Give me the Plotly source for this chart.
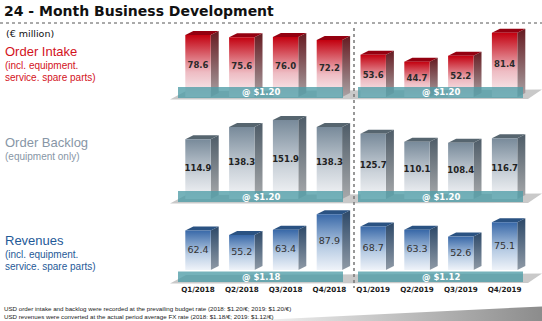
import plotly.graph_objects as go

# ---------------- data ----------------
quarters = ["Q1/2018", "Q2/2018", "Q3/2018", "Q4/2018",
            "Q1/2019", "Q2/2019", "Q3/2019", "Q4/2019"]
order_intake = [78.6, 75.6, 76.0, 72.2, 53.6, 44.7, 52.2, 81.4]
order_backlog = [114.9, 138.3, 151.9, 138.3, 125.7, 110.1, 108.4, 116.7]
revenues = [62.4, 55.2, 63.4, 87.9, 68.7, 63.3, 52.6, 75.1]
fx_intake = ["@ $1.20", "@ $1.20"]
fx_backlog = ["@ $1.20", "@ $1.20"]
fx_revenues = ["@ $1.18", "@ $1.12"]

title = "24 - Month Business Development"
unit_label = "(€ million)"
footnotes = [
    "USD order intake and backlog were recorded at the prevailing budget rate (2018: $1.20/€; 2019: $1.20/€)",
    "USD revenues were converted at the actual period average FX rate (2018: $1.18/€; 2019: $1.12/€)",
]

# ---------------- layout constants ----------------
W, H = 542, 321
X0_PX, STEP = 198.0, 43.8
HALF = 0.29            # half width of the front face (category units)
DX = 8.0 / STEP        # depth offset in x
DEPTH_PX = 4.0


def px_x(px):
    return (px - X0_PX) / STEP


rows = [
    dict(name="intake", values=order_intake, fx=fx_intake, axis="y", base=97.0, scale=0.79,
         band=(87.0, 98.0),
         front=[[0, "#f9f3f5"], [0.4, "#eebcc3"], [1, "#c3000f"]],
         side=[[0, "#a9a3a5"], [1, "#661a20"]], top="#940010",
         label="Order Intake", sub=["(incl. equipment.", "service. spare parts)"],
         color="#d3121c", ly=(51, 65, 77), vfont=dict(family="DejaVu Sans", size=8.5, color="#2a2a2a"),
         vbold=True),
    dict(name="backlog", values=order_backlog, fx=fx_backlog, axis="y2", base=199.0, scale=0.52,
         band=(191.0, 202.0),
         front=[[0, "#f5f6f8"], [0.4, "#ccd3da"], [1, "#788a9a"]],
         side=[[0, "#a7a9ab"], [1, "#4e5c68"]], top="#56656f",
         label="Order Backlog", sub=["(equipment only)"],
         color="#8796a6", ly=(143, 157), vfont=dict(family="DejaVu Sans", size=8.5, color="#222222"),
         vbold=True),
    dict(name="revenues", values=revenues, fx=fx_revenues, axis="y3", base=270.0, scale=0.635,
         band=(271.5, 282.0),
         front=[[0, "#eff3f9"], [0.4, "#b9cde4"], [1, "#3868a8"]],
         side=[[0, "#8f9aa6"], [1, "#2c4868"]], top="#2a5282",
         label="Revenues", sub=["(incl. equipment.", "service. spare parts)"],
         color="#1f5a98", ly=(240, 254, 266), vfont=dict(family="DejaVu Sans", size=9.5, color="#333333"),
         vbold=False),
]

fig = go.Figure()

for r in rows:
    s = r["scale"]
    dy = DEPTH_PX / s
    ax = r["axis"]
    for i, v in enumerate(r["values"]):
        xl, xr = i - HALF, i + HALF
        # side face
        fig.add_trace(go.Scatter(
            x=[xr, xr + DX, xr + DX, xr, xr], y=[0, dy, v + dy, v, 0],
            mode="lines", line=dict(width=0), fill="toself",
            fillgradient=dict(type="vertical", colorscale=r["side"]),
            yaxis=ax, hoverinfo="skip", showlegend=False))
        # top face
        fig.add_trace(go.Scatter(
            x=[xl, xr, xr + DX, xl + DX, xl], y=[v, v, v + dy, v + dy, v],
            mode="lines", line=dict(width=0), fill="toself", fillcolor=r["top"],
            yaxis=ax, hoverinfo="skip", showlegend=False))
        # front face
        fig.add_trace(go.Scatter(
            x=[xl, xr, xr, xl, xl], y=[0, 0, v, v, 0],
            mode="lines", line=dict(width=0), fill="toself",
            fillgradient=dict(type="vertical", colorscale=r["front"]),
            yaxis=ax, hoverinfo="skip", showlegend=False))
    # value labels
    txt = [f"<b>{v:.1f}</b>" if r["vbold"] else f"{v:.1f}" for v in r["values"]]
    fig.add_trace(go.Scatter(
        x=list(range(len(r["values"]))), y=[v / 2 for v in r["values"]],
        mode="text", text=txt, textfont=r["vfont"], textposition="middle center",
        yaxis=ax, hoverinfo="skip", showlegend=False))

# category labels (below the revenue row)
rev = rows[2]
fig.add_trace(go.Scatter(
    x=list(range(len(quarters))), y=[(rev["base"] - 290.0) / rev["scale"]] * len(quarters),
    mode="text", text=[f"<b>{q}</b>" for q in quarters],
    textfont=dict(family="DejaVu Sans", size=7.2, color="#1a1a1a"),
    yaxis="y3", hoverinfo="skip", showlegend=False))

# bottom swoosh
fig.add_trace(go.Scatter(
    x=[px_x(225), px_x(542), px_x(542), px_x(225)],
    y=[(rev["base"] - p) / rev["scale"] for p in (321.5, 306.5, 321.5, 321.5)],
    mode="lines", line=dict(width=0), fill="toself",
    fillgradient=dict(type="horizontal", colorscale=[[0, "#ffffff"], [1, "#8c8c8c"]]),
    yaxis="y3", hoverinfo="skip", showlegend=False))

shapes = []
annotations = []


def pp(px, py):
    return f"{px / W:.5f},{1 - py / H:.5f}"


for r in rows:
    bt, bb = r["band"]
    # floor
    shapes.append(dict(
        type="path", xref="paper", yref="paper", layer="below",
        path=f"M{pp(170, bb + 1.5)} L{pp(186, bb - 7)} L{pp(542, bb - 8.5)} L{pp(528, bb + 1)} Z",
        fillcolor="#c9c9c9", line=dict(width=0)))
    for (x1, x2), lab in zip([(178, 343), (358, 523)], r["fx"]):
        shapes.append(dict(type="rect", xref="paper", yref="paper", layer="above",
                           x0=x1 / W, x1=x2 / W, y0=1 - bb / H, y1=1 - bt / H,
                           fillcolor="rgba(78,156,166,0.78)", line=dict(width=0)))
        annotations.append(dict(xref="paper", yref="paper", x=(x1 + x2) / 2 / W,
                                y=1 - (bt + bb) / 2 / H, text=f"<b>{lab}</b>", showarrow=False,
                                font=dict(family="DejaVu Sans", size=8.5, color="white"),
                                xanchor="center", yanchor="middle"))
    # left labels
    annotations.append(dict(xref="paper", yref="paper", x=3 / W, y=1 - r["ly"][0] / H,
                            text=r["label"], showarrow=False, xanchor="left", yanchor="middle",
                            font=dict(family="Liberation Sans", size=13, color=r["color"])))
    for k, t in enumerate(r["sub"]):
        annotations.append(dict(xref="paper", yref="paper", x=3 / W, y=1 - r["ly"][k + 1] / H,
                                text=t, showarrow=False, xanchor="left", yanchor="middle",
                                font=dict(family="Liberation Sans", size=10, color=r["color"])))

# title and separators
shapes.append(dict(type="line", xref="paper", yref="paper", x0=0, x1=1,
                   y0=1 - 23 / H, y1=1 - 23 / H, line=dict(color="#555555", width=1, dash="dot")))
shapes.append(dict(type="line", xref="paper", yref="paper", x0=354 / W, x1=354 / W,
                   y0=1 - 28 / H, y1=1 - 288 / H, line=dict(color="#777777", width=1.5, dash="dot")))

annotations.append(dict(xref="paper", yref="paper", x=2 / W, y=1 - 11 / H, text=f"<b>{title}</b>",
                        showarrow=False, xanchor="left", yanchor="middle",
                        font=dict(family="DejaVu Sans", size=14, color="#111111")))
annotations.append(dict(xref="paper", yref="paper", x=4 / W, y=1 - 33 / H, text=unit_label,
                        showarrow=False, xanchor="left", yanchor="middle",
                        font=dict(family="DejaVu Sans", size=9.5, color="#111111")))
for k, t in enumerate(footnotes):
    annotations.append(dict(xref="paper", yref="paper", x=2 / W, y=1 - (308.5 + 8 * k) / H, text=t,
                            showarrow=False, xanchor="left", yanchor="middle",
                            font=dict(family="Liberation Sans Narrow, Liberation Sans", size=6.2,
                                      color="#222222")))

axis_off = dict(visible=False, showgrid=False, zeroline=False, fixedrange=True)
layout_axes = {}
for k, r in enumerate(rows):
    key = "yaxis" if k == 0 else f"yaxis{k + 1}"
    rng = [(r["base"] - H) / r["scale"], r["base"] / r["scale"]]
    d = dict(axis_off, range=rng, domain=[0, 1])
    if k > 0:
        d["overlaying"] = "y"
    layout_axes[key] = d

fig.update_layout(
    width=W, height=H, margin=dict(l=0, r=0, t=0, b=0),
    paper_bgcolor="white", plot_bgcolor="white",
    xaxis=dict(axis_off, range=[px_x(0), px_x(W)], domain=[0, 1]),
    shapes=shapes, annotations=annotations, showlegend=False,
    **layout_axes,
)

fig.write_html("out.html")
